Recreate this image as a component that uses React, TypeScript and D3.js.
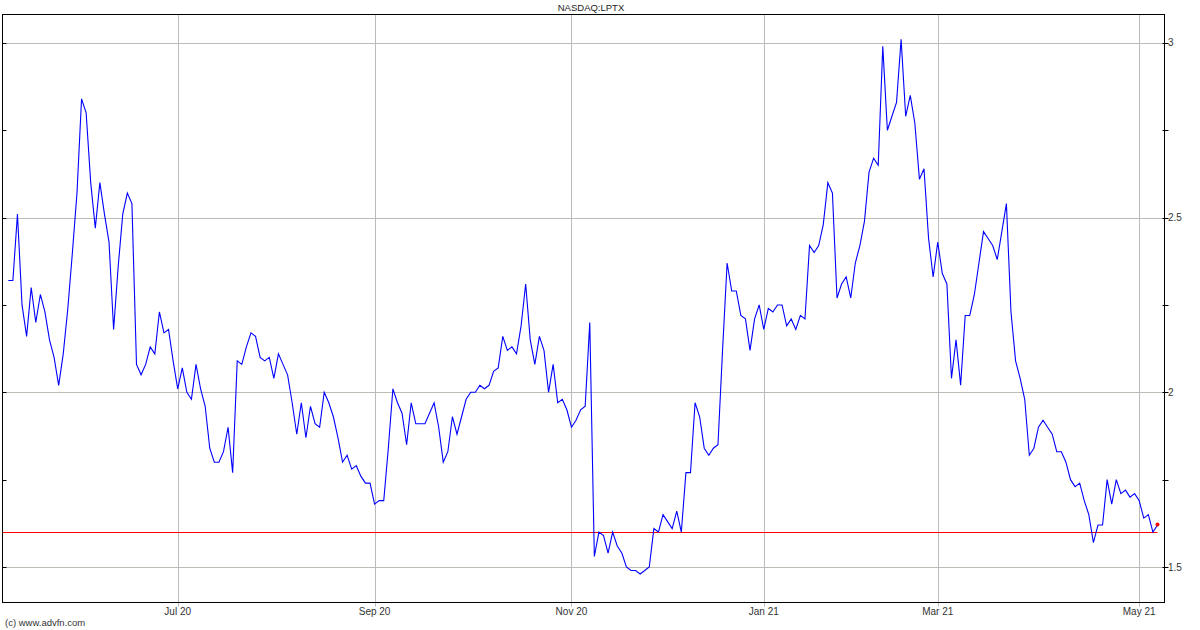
import React from "react";
import * as d3 from "d3";

const prices: number[] = [
  2.32, 2.32, 2.51, 2.25, 2.16, 2.30, 2.20, 2.28, 2.23, 2.15,
  2.10, 2.02, 2.11, 2.24, 2.40, 2.57, 2.84, 2.80, 2.60, 2.47,
  2.60, 2.51, 2.43, 2.18, 2.36, 2.51, 2.57, 2.54, 2.08, 2.05,
  2.08, 2.13, 2.11, 2.23, 2.17, 2.18, 2.09, 2.01, 2.07, 2.00,
  1.98, 2.08, 2.01, 1.96, 1.84, 1.80, 1.80, 1.83, 1.90, 1.77,
  2.09, 2.08, 2.13, 2.17, 2.16, 2.10, 2.09, 2.10, 2.04, 2.11,
  2.08, 2.05, 1.97, 1.88, 1.97, 1.87, 1.96, 1.91, 1.90, 2.00,
  1.97, 1.93, 1.87, 1.80, 1.82, 1.78, 1.79, 1.76, 1.74, 1.74,
  1.68, 1.69, 1.69, 1.84, 2.01, 1.97, 1.94, 1.85, 1.97, 1.91,
  1.91, 1.91, 1.94, 1.97, 1.90, 1.80, 1.83, 1.93, 1.88, 1.93,
  1.98, 2.00, 2.00, 2.02, 2.01, 2.02, 2.06, 2.07, 2.16, 2.12,
  2.13, 2.11, 2.19, 2.31, 2.15, 2.08, 2.16, 2.12, 2.00, 2.08,
  1.97, 1.98, 1.95, 1.90, 1.92, 1.95, 1.96, 2.20, 1.53, 1.60,
  1.59, 1.54, 1.60, 1.56, 1.54, 1.50, 1.49, 1.49, 1.48, 1.49,
  1.50, 1.61, 1.60, 1.65, 1.63, 1.61, 1.66, 1.60, 1.77, 1.77,
  1.97, 1.93, 1.84, 1.82, 1.84, 1.85, 2.12, 2.37, 2.29, 2.29,
  2.22, 2.21, 2.12, 2.21, 2.25, 2.18, 2.24, 2.23, 2.25, 2.25,
  2.19, 2.21, 2.18, 2.22, 2.21, 2.42, 2.40, 2.42, 2.48, 2.60,
  2.57, 2.27, 2.31, 2.33, 2.27, 2.37, 2.42, 2.49, 2.63, 2.67,
  2.65, 2.99, 2.75, 2.79, 2.83, 3.01, 2.79, 2.85, 2.77, 2.61,
  2.64, 2.44, 2.33, 2.43, 2.34, 2.31, 2.04, 2.15, 2.02, 2.22,
  2.22, 2.28, 2.37, 2.46, 2.44, 2.42, 2.38, 2.46, 2.54, 2.23,
  2.09, 2.04, 1.98, 1.82, 1.84, 1.90, 1.92, 1.90, 1.88, 1.83,
  1.83, 1.80, 1.75, 1.73, 1.74, 1.69, 1.65, 1.57, 1.62, 1.62,
  1.75, 1.68, 1.75, 1.71, 1.72, 1.70, 1.71, 1.69, 1.64, 1.65,
  1.60, 1.62,
];

const monthLabels: string[] = ["Jul 20", "Sep 20", "Nov 20", "Jan 21", "Mar 21", "May 21"];
const monthIndex: number[] = [37, 80, 123, 165, 203, 247];
const yMajor: number[] = [1.5, 2, 2.5, 3];
const yMinor: number[] = [1.75, 2.25, 2.75];
const prevClose = 1.6;
const title = "NASDAQ:LPTX";
const credit = "(c) www.advfn.com";

export default function App() {
  const W = 1200;
  const H = 630;
  const left = 2.5;
  const right = 1164.5;
  const top = 14.5;
  const bottom = 602.5;

  const x = d3.scaleLinear().domain([0, prices.length - 1]).range([8.3, 1157.5]);
  const y = d3.scaleLinear().domain([1.5, 3]).range([567, 42.9]);

  const line = d3
    .line<number>()
    .x((_, i) => x(i))
    .y((d) => y(d));

  const last = prices.length - 1;
  const font = "'Liberation Sans', Arial, sans-serif";
  const snap = (v: number) => Math.round(v) + 0.5;

  return (
    <svg
      width={W}
      height={H}
      style={{ position: "absolute", left: 0, top: 0, background: "#fff" }}
      fontFamily={font}
    >
      <rect x={0} y={0} width={W} height={H} fill="#fff" />
      <text x={591} y={11} fontSize={9.5} textAnchor="middle" fill="#222">
        {title}
      </text>
      {yMajor.map((v) => (
        <line key={"h" + v} x1={left} x2={right} y1={snap(y(v))} y2={snap(y(v))} stroke="#bdbdb5" strokeWidth={1} />
      ))}
      {monthIndex.map((i) => (
        <line key={"v" + i} x1={snap(x(i))} x2={snap(x(i))} y1={top} y2={bottom + 4} stroke="#bbbbbb" strokeWidth={1} />
      ))}
      {[...yMajor, ...yMinor].map((v) => (
        <line key={"lt" + v} x1={left} x2={left + 4} y1={snap(y(v))} y2={snap(y(v))} stroke="#000" />
      ))}
      {[...yMajor, ...yMinor].map((v) => (
        <line key={"rt" + v} x1={right - 2} x2={right + 4} y1={snap(y(v))} y2={snap(y(v))} stroke="#000" />
      ))}
      <line x1={left} x2={x(last)} y1={snap(y(prevClose))} y2={snap(y(prevClose))} stroke="#ff0000" strokeWidth={1} />
      <path d={line(prices) || ""} fill="none" stroke="#0000ff" strokeWidth={1.1} />
      <circle cx={x(last)} cy={y(prices[last]) - 0.5} r={2} fill="#ff0000" />
      <rect x={left} y={top} width={right - left} height={bottom - top} fill="none" stroke="#000" strokeWidth={1} />
      {yMajor.map((v) => (
        <text key={"yl" + v} x={1168} y={y(v) + 3.5} fontSize={10} fill="#333">
          {String(v)}
        </text>
      ))}
      {monthIndex.map((i, k) => (
        <text key={"xl" + i} x={x(i)} y={615} fontSize={10} textAnchor="middle" fill="#333">
          {monthLabels[k]}
        </text>
      ))}
      <text x={5} y={626} fontSize={9.5} fill="#333">
        {credit}
      </text>
    </svg>
  );
}
